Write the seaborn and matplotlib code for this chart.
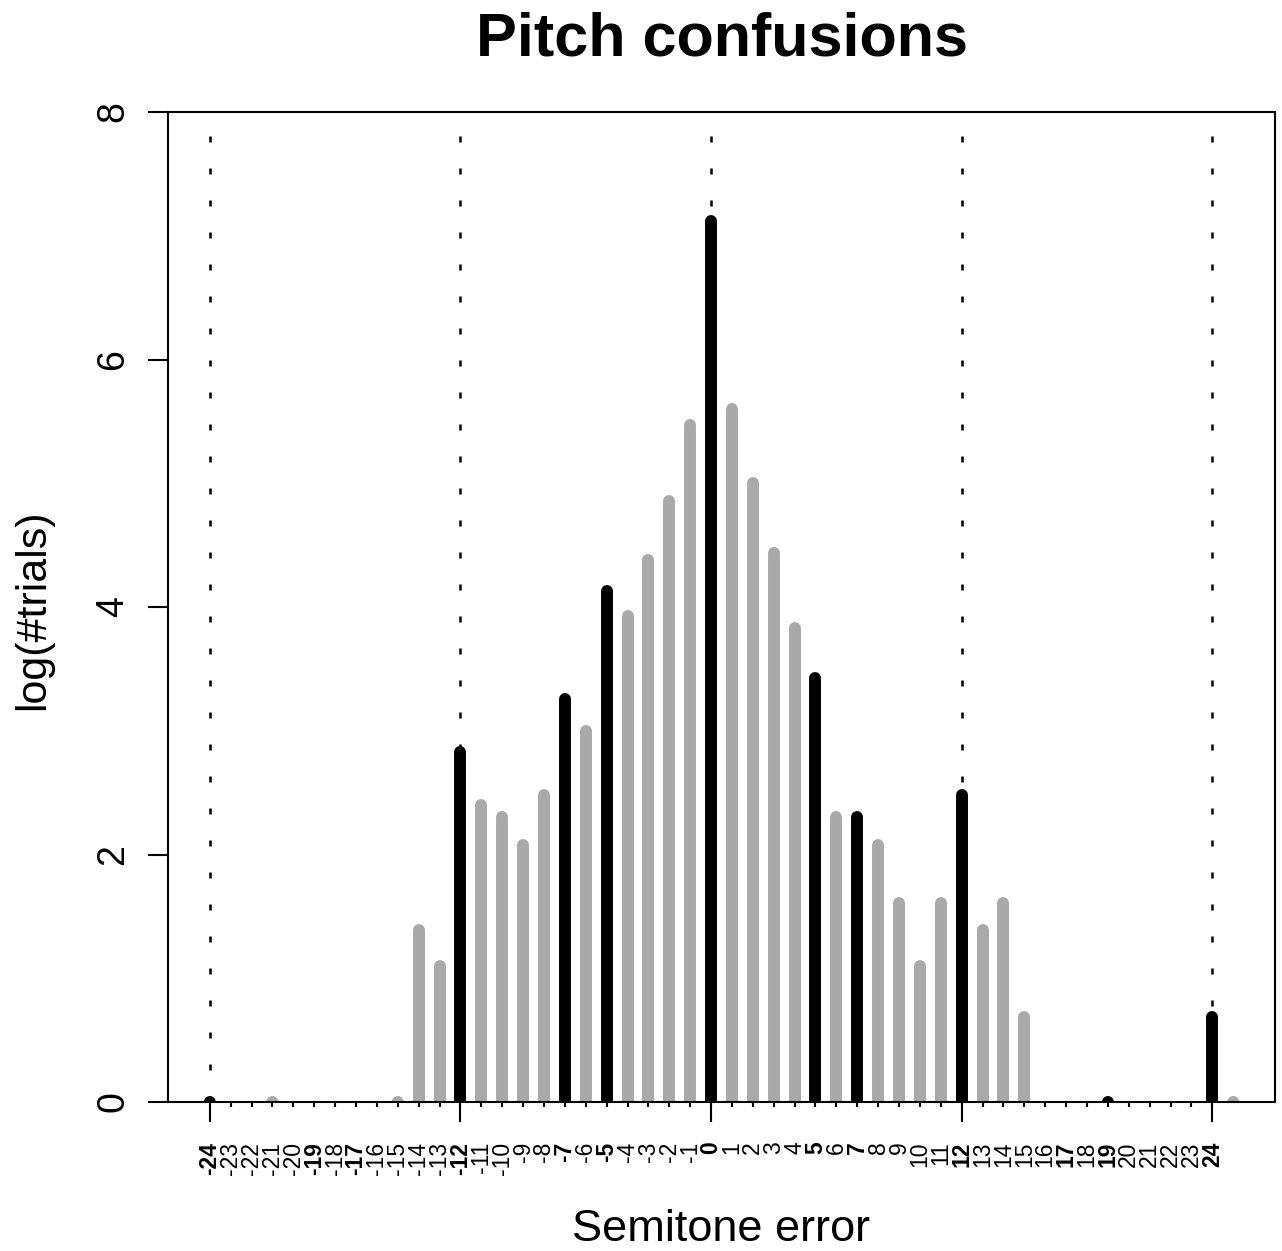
import numpy as np
import pandas as pd
import matplotlib
matplotlib.use("Agg")
import matplotlib.pyplot as plt
import seaborn as sns

# ── data (log of trial counts per semitone error) ────────────────────────────
SEMITONES = [-24, -21, -15, -14, -13, -12, -11, -10, -9, -8, -7, -6, -5, -4,
             -3, -2, -1, 0, 1, 2, 3, 4, 5, 6, 7, 8, 9, 10, 11, 12, 13, 14,
             15, 19, 24, 25]
LOG_TRIALS = [0.00, 0.00, 0.00, 1.39, 1.10, 2.83, 2.40, 2.30, 2.08, 2.48,
              3.26, 3.00, 4.13, 3.93, 4.38, 4.86, 5.47, 7.12, 5.60, 5.00,
              4.44, 3.83, 3.43, 2.30, 2.30, 2.08, 1.61, 1.10, 1.61, 2.48,
              1.39, 1.61, 0.69, 0.00, 0.69, 0.00]
HIGHLIGHT = [-24, -19, -17, -12, -7, -5, 0, 5, 7, 12, 17, 19, 24]
OCTAVES = [-24, -12, 0, 12, 24]
TICKS = list(range(-24, 25))
Y_TICKS = [0, 2, 4, 6, 8]

# ── style ─────────────────────────────────────────────────────────────────────
sns.set_theme(style="ticks")
plt.rcParams["font.family"] = ["Liberation Sans", "DejaVu Sans"]
plt.rcParams.update({
    "axes.edgecolor":  "black",
    "axes.linewidth":  1.5,
    "axes.labelcolor": "black",
    "text.color":      "black",
    "xtick.color":     "black",
    "ytick.color":     "black",
})

GRAY = "darkgray"
BAR_LW = 8.6

df = pd.DataFrame({"semitone": SEMITONES, "log_trials": LOG_TRIALS})
df["key"] = df["semitone"].isin(HIGHLIGHT)

W, H = 1282, 1251
fig = plt.figure(figsize=(W / 100, H / 100), dpi=100)
ax = fig.add_axes([168 / W, 1 - 1102 / H, (1275 - 168) / W, (1102 - 112) / H])

# octave guides
ax.vlines(OCTAVES, 0, 8, colors="black", linewidth=1.8,
          linestyles=[(0, (2.4, 10.4))])

# bars as thick round-capped lines
for key, color in [(False, GRAY), (True, "black")]:
    sub = df[df["key"] == key]
    ax.vlines(sub["semitone"], 0, sub["log_trials"], colors=color,
              linewidth=BAR_LW, capstyle="round")

# zero counts show as a stub dot on the axis
zeros = df[df["log_trials"] == 0]
sns.scatterplot(data=zeros, x="semitone", y="log_trials", hue="key",
                palette={False: GRAY, True: "black"}, s=BAR_LW ** 2,
                linewidth=0, legend=False, ax=ax)

ax.set_xlim(-26, 27)
ax.set_ylim(0, 8)
ax.set_xlabel("")
ax.set_ylabel("")

ax.set_xticks(TICKS)
ax.set_xticklabels([str(t) for t in TICKS])
ax.set_xticks(OCTAVES, minor=True)
ax.xaxis.remove_overlapping_locs = False
ax.tick_params(axis="x", which="major", length=3.6, width=1.5, pad=25,
               labelsize=16.5, labelrotation=90, labelcolor="black")
ax.tick_params(axis="x", which="minor", length=14.4, width=1.5)
for lbl, t in zip(ax.get_xticklabels(), TICKS):
    if t in HIGHLIGHT:
        lbl.set_fontweight("bold")

ax.set_yticks(Y_TICKS)
ax.set_yticklabels([str(v) for v in Y_TICKS])
ax.tick_params(axis="y", length=14.4, width=1.5, pad=12, labelsize=27,
               labelrotation=90, labelcolor="black")
for lbl in ax.get_yticklabels():
    lbl.set_va("center")

for sp in ax.spines.values():
    sp.set_visible(True)
    sp.set_color("black")
    sp.set_linewidth(1.5)

fig.text(721.5 / W, 1 - 55 / H, "Pitch confusions", ha="center",
         va="baseline", fontsize=44, fontweight="bold", color="black")
fig.text(721.5 / W, 1 - 1241 / H, "Semitone error", ha="center",
         va="baseline", fontsize=32.5, color="black")
fig.text(44 / W, 1 - 610 / H, "log(#trials)", rotation=90,
         rotation_mode="anchor", ha="center", va="baseline", fontsize=31,
         color="black")

fig.savefig("out.png", dpi=100, facecolor="white")
